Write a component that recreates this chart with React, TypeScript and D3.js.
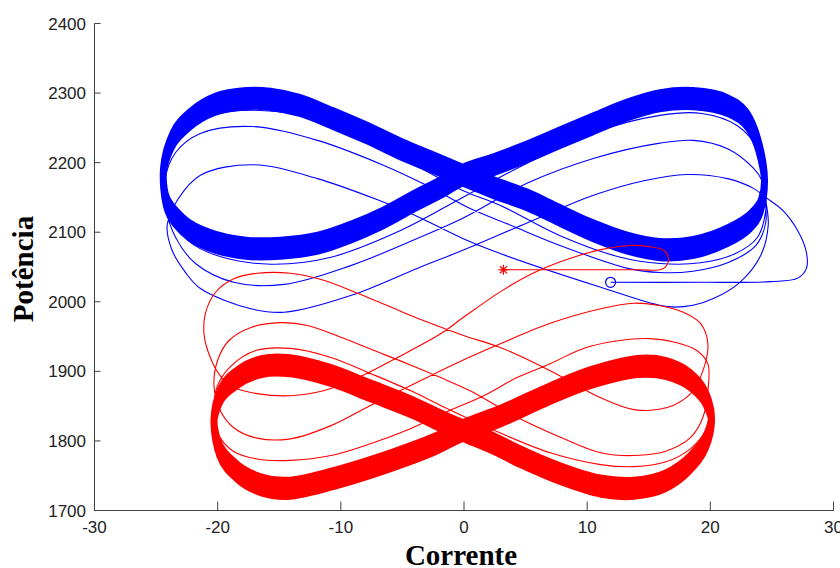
import * as d3 from 'd3';

type Pt = [number, number];

// axes
const xTicks = [-30, -20, -10, 0, 10, 20, 30];
const yTicks = [1700, 1800, 1900, 2000, 2100, 2200, 2300, 2400];

// start markers [corrente, potencia]
const blueStart: Pt = [11.9, 2028];
const redStart: Pt = [3.2, 2046];

// blue: transient loops before settling
const blueTransient: Pt[] = [
    [11.9, 2028], [19.2, 2028], [24.9, 2029], [27.1, 2034], [27.8, 2048], [27.8, 2071], [27.1, 2102],
    [25.9, 2131], [24.5, 2150], [23.5, 2163], [21.4, 2177], [18.1, 2183], [14.6, 2174], [10.5, 2153],
    [5.2, 2114], [-0.1, 2074], [-3.8, 2048], [-9.2, 2009], [-14.6, 1985], [-17.3, 1990], [-21.4, 2019],
    [-22.6, 2042], [-23.7, 2074], [-24.1, 2110], [-23.2, 2148], [-21.4, 2182], [-17.1, 2197], [-11.9, 2177],
    [-6.5, 2143], [-4.3, 2127], [-0.1, 2091], [3.0, 2069], [11.1, 2021], [16.5, 1993], [18.6, 1995],
    [20.3, 2005], [22.4, 2028], [24.1, 2067], [24.7, 2110], [24.5, 2146],
    [24.2, 2174], [23.5, 2192], [21.4, 2220], [18.6, 2232], [15.9, 2228], [10.5, 2206], [5.2, 2171],
    [-0.1, 2120], [-3.8, 2091], [-9.2, 2052], [-14.6, 2025], [-18.7, 2028], [-21.8, 2055], [-23.4, 2092],
    [-24.2, 2134], [-24.3, 2174], [-23.4, 2215], [-21.4, 2242], [-17.3, 2252], [-11.9, 2232], [-6.5, 2196],
    [-3.0, 2167], [0.5, 2134], [3.8, 2110], [7.8, 2081], [13.3, 2048], [15.9, 2042], [18.6, 2044],
    [21.4, 2056], [23.7, 2081], [24.5, 2114],
    [24.4, 2153], [23.9, 2217], [22.2, 2253], [19.2, 2271], [15.9, 2268], [10.5, 2243], [5.2, 2200],
    [-0.1, 2150], [-5.2, 2102], [-10.8, 2064], [-15.7, 2054], [-19.8, 2065], [-22.4, 2088], [-23.8, 2124],
    [-24.3, 2167], [-24.0, 2210], [-22.6, 2246], [-20.2, 2269], [-16.5, 2275], [-11.6, 2261], [-7.6, 2229],
    [-3.5, 2192], [-0.1, 2160], [3.0, 2138], [7.8, 2095], [12.7, 2064], [15.9, 2055], [19.2, 2056],
    [22.0, 2069], [23.8, 2092], [24.5, 2131], [24.4, 2174],
];

// blue: settled figure-eight (centre of the thick band)
const blueLoop: Pt[] = [
    [-0.1, 2182], [2.4, 2197], [5.2, 2216], [7.8, 2236], [10.5, 2256], [13.3, 2276], [15.9, 2289],
    [18.6, 2292], [21.4, 2282], [23.0, 2261], [23.9, 2225], [24.4, 2174], [24.1, 2138], [23.3, 2117],
    [21.4, 2095], [18.6, 2078], [15.9, 2075], [13.3, 2084], [10.5, 2102], [7.8, 2124], [5.2, 2146],
    [2.4, 2164],
    [-0.1, 2182], [-2.5, 2200], [-5.2, 2220], [-7.8, 2242], [-10.6, 2263], [-13.3, 2282], [-15.7, 2291],
    [-17.7, 2292], [-20.2, 2284], [-22.2, 2263], [-23.7, 2232], [-24.4, 2189], [-24.2, 2146], [-22.8, 2110],
    [-20.6, 2088], [-17.7, 2077], [-14.9, 2077], [-11.9, 2084], [-9.2, 2100], [-6.5, 2121], [-3.9, 2146],
    [-1.9, 2164],
];

// red: transient loops before settling
const redTransient: Pt[] = [
    [3.2, 2046], [7.8, 2046], [14.3, 2046], [15.9, 2046], [16.4, 2051], [16.6, 2062], [16.2, 2074],
    [15.1, 2079], [13.5, 2081], [11.1, 2075], [8.4, 2061], [5.6, 2041], [3.0, 2015], [-0.1, 1977],
    [-1.9, 1954], [-5.4, 1920], [-8.6, 1891], [-11.4, 1872], [-14.1, 1865], [-16.8, 1868], [-18.7, 1877],
    [-19.8, 1894], [-20.6, 1920], [-21.1, 1952], [-21.0, 1983], [-20.2, 2013], [-18.7, 2033], [-16.8, 2041],
    [-14.1, 2041], [-11.4, 2031], [-8.6, 2012], [-5.9, 1992], [-3.3, 1973], [-0.1, 1952], [3.0, 1934],
    [7.0, 1901], [11.1, 1862], [13.8, 1845], [16.5, 1848], [18.4, 1868], [19.4, 1901],
    [19.8, 1940], [19.2, 1969], [17.8, 1985], [15.7, 1995], [13.8, 1998], [11.1, 1990], [7.0, 1969],
    [3.0, 1940], [-0.1, 1916], [-3.5, 1887], [-7.6, 1851], [-10.8, 1822], [-14.1, 1803], [-16.8, 1804],
    [-18.7, 1819], [-19.8, 1844], [-20.3, 1880], [-20.0, 1916], [-19.1, 1944], [-17.3, 1963], [-14.9, 1970],
    [-12.7, 1966], [-10.0, 1949], [-7.3, 1930], [-4.6, 1911], [-1.9, 1891], [0.5, 1872], [4.3, 1834],
    [8.4, 1801], [11.1, 1783], [13.8, 1779], [16.5, 1786], [18.4, 1805], [19.4, 1834], [19.8, 1872],
    [19.8, 1911], [18.9, 1930], [17.3, 1941], [15.1, 1947], [12.5, 1944], [9.7, 1933], [7.0, 1911],
    [4.3, 1891], [1.6, 1865], [-1.1, 1844], [-4.3, 1818], [-7.6, 1796], [-10.8, 1779], [-14.1, 1772],
    [-16.8, 1774], [-18.8, 1786], [-19.9, 1808], [-20.3, 1844], [-20.0, 1880], [-18.9, 1908], [-16.9, 1930],
    [-14.1, 1933], [-10.8, 1920], [-7.6, 1897], [-4.3, 1872], [-1.9, 1851], [-0.1, 1836], [3.0, 1811],
    [7.0, 1783], [11.1, 1766], [13.8, 1763], [16.4, 1770], [18.4, 1789], [19.6, 1815], [19.9, 1844],
    [19.6, 1872], [18.6, 1893], [16.8, 1904], [14.3, 1907],
];

// red: settled figure-eight (centre of the thick band)
const redLoop: Pt[] = [
    [-0.1, 1815], [3.0, 1836], [7.0, 1868], [10.3, 1891], [14.1, 1907], [16.4, 1904], [18.4, 1887],
    [19.6, 1862], [20.1, 1832], [19.7, 1801], [18.4, 1769], [16.4, 1743], [13.8, 1732], [11.1, 1735],
    [7.8, 1753], [4.6, 1777], [2.2, 1798],
    [-0.1, 1815], [-1.9, 1829], [-4.3, 1849], [-7.6, 1872], [-10.8, 1894], [-14.1, 1908], [-16.4, 1907],
    [-18.4, 1891], [-19.8, 1865], [-20.3, 1829], [-19.9, 1789], [-18.5, 1757], [-16.5, 1737], [-14.1, 1732],
    [-10.0, 1749], [-5.9, 1772], [-2.7, 1793],
];

const W = 840;
const H = 568;
const BLUE = '#0000ff';
const RED = '#ff0000';
const AXIS = '#404040';

// the band is many overlapping loops drifting vertically -> draw with a tall elliptical pen
const PEN_W = 7;
const PEN_K = 3.3;

export default function App() {
    const x = d3.scaleLinear().domain([-30, 30]).range([94.5, 833.5]);
    const y = d3.scaleLinear().domain([1700, 2400]).range([510.5, 23.5]);

    const thin = d3.line<Pt>()
        .x(d => x(d[0]))
        .y(d => y(d[1]))
        .curve(d3.curveCatmullRom.alpha(0.5));

    const band = d3.line<Pt>()
        .x(d => x(d[0]))
        .y(d => y(d[1]) / PEN_K)
        .curve(d3.curveCatmullRomClosed.alpha(0.5));

    const sx = x(redStart[0]);
    const sy = y(redStart[1]);

    return (
        <svg width={W} height={H} style={{ position: 'absolute', left: 0, top: 0, background: '#fff' }}>
            <rect width={W} height={H} fill="#fff" />

            {/* blue */}
            <path d={thin(blueTransient)!} fill="none" stroke={BLUE} strokeWidth={1.1} />
            <g transform={`scale(1,${PEN_K})`}>
                <path d={band(blueLoop)!} fill="none" stroke={BLUE} strokeWidth={PEN_W} strokeLinejoin="round" />
            </g>

            {/* red */}
            <path d={thin(redTransient)!} fill="none" stroke={RED} strokeWidth={1.1} />
            <g transform={`scale(1,${PEN_K})`}>
                <path d={band(redLoop)!} fill="none" stroke={RED} strokeWidth={PEN_W} strokeLinejoin="round" />
            </g>

            {/* start markers */}
            <circle cx={x(blueStart[0])} cy={y(blueStart[1])} r={5} fill="none" stroke={BLUE} strokeWidth={1.2} />
            <g stroke={RED} strokeWidth={1.2}>
                <line x1={sx - 5} y1={sy} x2={sx + 5} y2={sy} />
                <line x1={sx} y1={sy - 5} x2={sx} y2={sy + 5} />
                <line x1={sx - 3.5} y1={sy - 3.5} x2={sx + 3.5} y2={sy + 3.5} />
                <line x1={sx - 3.5} y1={sy + 3.5} x2={sx + 3.5} y2={sy - 3.5} />
            </g>

            {/* axes */}
            <line x1={x(-30)} y1={y(1700)} x2={x(30)} y2={y(1700)} stroke={AXIS} />
            <line x1={x(-30)} y1={y(1700)} x2={x(-30)} y2={y(2400)} stroke={AXIS} />
            {xTicks.map(t => (
                <g key={`xt${t}`}>
                    <line x1={x(t)} x2={x(t)} y1={y(1700)} y2={y(1700) - 9} stroke={AXIS} />
                    <text x={x(t)} y={533} textAnchor="middle" fontFamily="'Liberation Sans', Arial, sans-serif"
                        fontSize={17} fill="#222">{t}</text>
                </g>
            ))}
            {yTicks.map(t => (
                <g key={`yt${t}`}>
                    <line x1={x(-30)} x2={x(-30) + 6} y1={y(t)} y2={y(t)} stroke={AXIS} />
                    <text x={86} y={y(t)} dy="0.36em" textAnchor="end" fontFamily="'Liberation Sans', Arial, sans-serif"
                        fontSize={17} fill="#222">{t}</text>
                </g>
            ))}

            {/* axis labels */}
            <text x={461} y={565} textAnchor="middle" fontFamily="'Liberation Serif', 'Times New Roman', serif"
                fontWeight="bold" fontSize={29} fill="#000">Corrente</text>
            <text transform="translate(33,269) rotate(-90)" textAnchor="middle"
                fontFamily="'Liberation Serif', 'Times New Roman', serif" fontWeight="bold" fontSize={29}
                fill="#000">Potência</text>
        </svg>
    );
}
